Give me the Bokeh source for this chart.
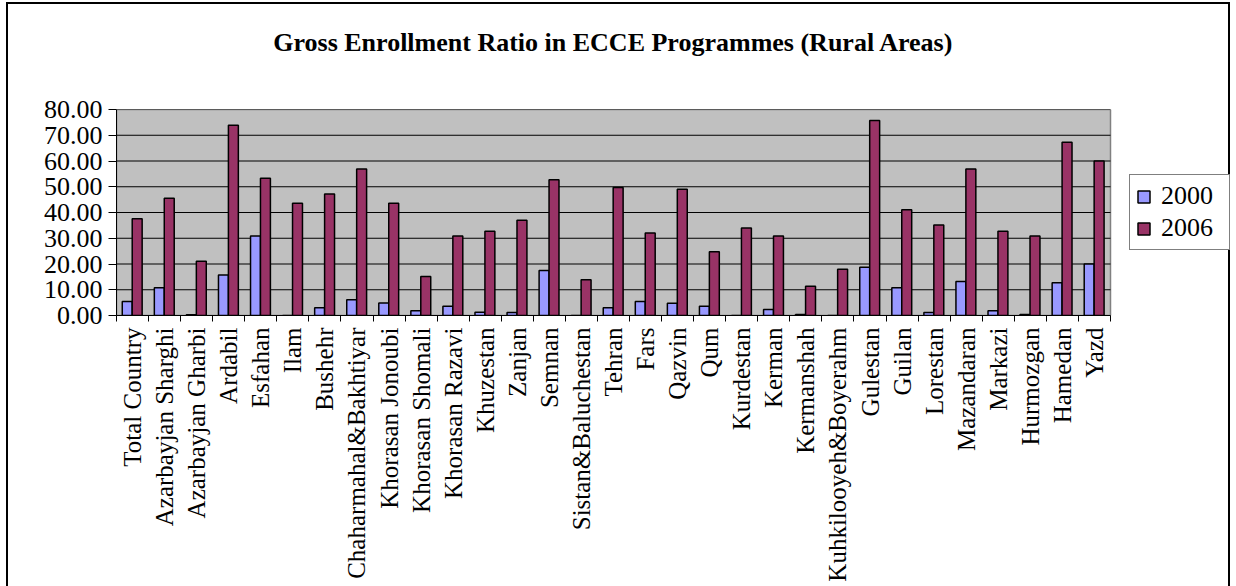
import math
from bokeh.plotting import figure
from bokeh.models import (ColumnDataSource, FixedTicker, NumeralTickFormatter,
                          Legend, LegendItem, Range1d)
from bokeh.transform import dodge
from bokeh.embed import file_html
from bokeh.resources import INLINE

chart_title = "Gross Enrollment Ratio in ECCE Programmes (Rural Areas)"

provinces = [
    "Total Country", "Azarbayjan Sharghi", "Azarbayjan Gharbi", "Ardabil", "Esfahan",
    "Ilam", "Bushehr", "Chaharmahal&Bakhtiyar", "Khorasan Jonoubi", "Khorasan Shomali",
    "Khorasan Razavi", "Khuzestan", "Zanjan", "Semnan", "Sistan&Baluchestan",
    "Tehran", "Fars", "Qazvin", "Qum", "Kurdestan", "Kerman", "Kermanshah",
    "Kuhkilooyeh&Boyerahm", "Gulestan", "Guilan", "Lorestan", "Mazandaran",
    "Markazi", "Hurmozgan", "Hamedan", "Yazd",
]

ger_2000 = [5.4, 10.8, 0.3, 15.7, 30.9, 0.0, 3.0, 6.1, 4.9, 1.8,
            3.6, 1.3, 1.2, 17.5, 0.0, 3.0, 5.4, 4.8, 3.6, 0.0, 2.3, 0.4,
            0.0, 18.7, 10.8, 1.2, 13.2, 1.8, 0.4, 12.7, 20.0]

ger_2006 = [37.6, 45.5, 21.1, 73.9, 53.3, 43.6, 47.2, 56.9, 43.6, 15.1,
            30.9, 32.7, 37.0, 52.7, 13.9, 49.7, 32.0, 49.0, 24.8, 34.0, 30.9, 11.4,
            18.0, 75.7, 41.1, 35.1, 56.9, 32.7, 30.9, 67.3, 60.0]

series_names = ["2000", "2006"]
series_colors = ["#9999FF", "#993366"]
y_ticks = [0, 10, 20, 30, 40, 50, 60, 70, 80]

FONT = "Liberation Serif"

n = len(provinces)
positions = list(range(1, n + 1))
source = ColumnDataSource(dict(x=positions, y2000=ger_2000, y2006=ger_2006))
grid_src = ColumnDataSource(dict(y=y_ticks))

# Layout (pixels): plot area spans 994 px; the frame continues to the right
# edge so that the legend (drawn inside the frame) is not clipped.
W, H = 1224, 584
LEFT, AREA_W = 108, 994
x_lo = 0.5
x_area_hi = n + 0.5
x_hi = x_lo + (W - LEFT) * (x_area_hi - x_lo) / AREA_W

p = figure(width=W, height=H, output_backend="svg", toolbar_location=None,
           x_range=Range1d(x_lo, x_hi), y_range=Range1d(y_ticks[0], y_ticks[-1]),
           min_border_left=LEFT, min_border_right=0, min_border_top=105,
           min_border_bottom=273)
p.styles = {"border": "2px solid black", "border-bottom": "none",
            "margin-left": "6px", "margin-top": "2px"}

p.title.text = chart_title
p.title.text_font = FONT
p.title.text_font_size = "26px"
p.title.text_font_style = "bold"
p.title.text_color = "black"
p.title.align = "center"
p.title.standoff = 10
p.title.padding = dict(top=0, bottom=48, left=0, right=2 * (W - LEFT - AREA_W) // 2 * 1)

p.background_fill_color = "white"
p.border_fill_color = "white"
p.outline_line_color = None

# plot area background (grey) with grey border
p.quad(left=x_lo, right=x_area_hi, bottom=y_ticks[0], top=y_ticks[-1],
       fill_color="#C0C0C0", line_color="#808080", line_width=1.5)
# horizontal gridlines, limited to the plot area
p.segment(x0=x_lo, x1=x_area_hi, y0="y", y1="y", source=grid_src,
          line_color="black", line_width=1)

bw = 0.31
p.vbar(x=dodge("x", -0.165), top="y2000", width=bw, source=source,
       fill_color=series_colors[0], line_color="black", line_width=1.5)
p.vbar(x=dodge("x", 0.145), top="y2006", width=bw, source=source,
       fill_color=series_colors[1], line_color="black", line_width=1.5)

p.xgrid.grid_line_color = None
p.ygrid.grid_line_color = None

# Y axis
p.yaxis.ticker = FixedTicker(ticks=y_ticks)
p.yaxis.formatter = NumeralTickFormatter(format="0.00")
p.yaxis.major_label_text_font = FONT
p.yaxis.major_label_text_font_size = "26px"
p.yaxis.major_label_text_color = "black"
p.yaxis.axis_line_color = "black"
p.yaxis.major_tick_line_color = "black"
p.yaxis.major_tick_out = 8
p.yaxis.major_tick_in = 0
p.yaxis.minor_tick_line_color = None
p.yaxis.major_label_standoff = 6

# X axis: labels at centers, tick marks at category boundaries
p.xaxis.bounds = (x_lo, x_area_hi)
p.xaxis.ticker = FixedTicker(ticks=positions,
                             minor_ticks=[i + 0.5 for i in range(n + 1)])
p.xaxis.major_label_overrides = {pos: name for pos, name in zip(positions, provinces)}
p.xaxis.major_label_orientation = math.pi / 2
p.xaxis.major_label_text_font = FONT
p.xaxis.major_label_text_font_size = "25px"
p.xaxis.major_label_text_color = "black"
p.xaxis.axis_line_color = "black"
p.xaxis.major_tick_line_color = None
p.xaxis.major_tick_out = 0
p.xaxis.major_tick_in = 0
p.xaxis.minor_tick_line_color = "black"
p.xaxis.minor_tick_out = 6
p.xaxis.minor_tick_in = 0
p.xaxis.major_label_standoff = 6

renderers = [r for r in p.renderers][2:]
legend = Legend(items=[LegendItem(label=name, renderers=[r])
                       for name, r in zip(series_names, renderers)],
                location=(1013, 65))
legend.label_text_font = FONT
legend.label_text_font_size = "26px"
legend.label_text_color = "black"
legend.glyph_width = 15
legend.glyph_height = 15
legend.label_standoff = 10
legend.label_width = 62
legend.padding = 6
legend.spacing = 2
legend.margin = 0
legend.border_line_color = "black"
legend.border_line_width = 1
legend.background_fill_color = "white"
legend.background_fill_alpha = 1
p.add_layout(legend, "center")

open("out.html", "w").write(file_html(p, INLINE))
